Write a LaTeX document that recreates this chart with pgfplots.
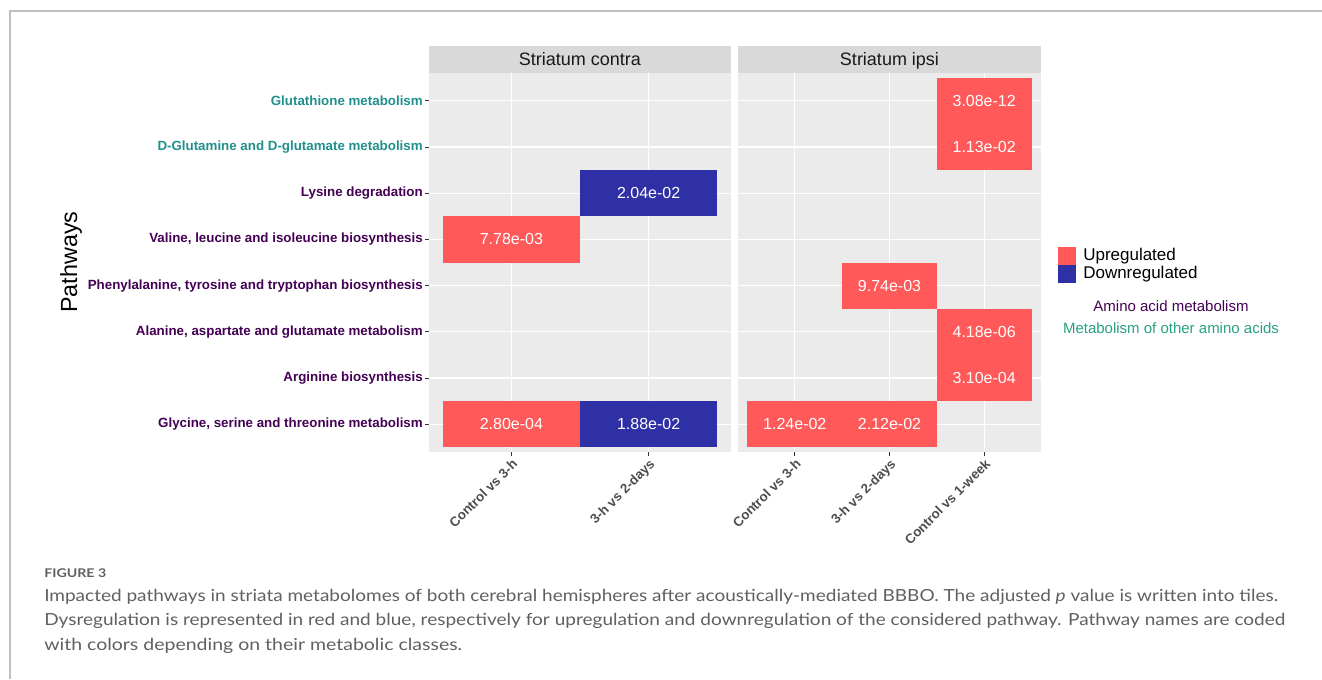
\documentclass[border=0pt]{standalone}
\usepackage{pgfplots}
\pgfplotsset{compat=1.18}
\usepackage{pgfplotstable}
\usepackage{fontspec}
\setmainfont{Liberation Sans}
\newfontfamily\capfont{Lato}

\definecolor{upred}{HTML}{FF5959}
\definecolor{downblue}{HTML}{2F2FA6}
\definecolor{panelbg}{HTML}{EBEBEB}
\definecolor{stripbg}{HTML}{D9D9D9}
\definecolor{aapurple}{HTML}{440154}
\definecolor{aateal}{HTML}{21908C}
\definecolor{legteal}{HTML}{29A083}
\definecolor{tickgray}{HTML}{4D4D4D}
\definecolor{capgray}{HTML}{606060}

% tiles: one comparison wide, one pathway high (sizes in pt)
\pgfdeclareplotmark{tileL}{\pgfpathrectangle{\pgfpoint{-51.48pt}{-17.33pt}}{\pgfpoint{102.95pt}{34.66pt}}\pgfusepath{fill}}
\pgfdeclareplotmark{tileR}{\pgfpathrectangle{\pgfpoint{-35.51pt}{-17.33pt}}{\pgfpoint{71.02pt}{34.66pt}}\pgfusepath{fill}}

% x = comparison, y = pathway row (1 Glycine ... 8 Glutathione), p = adjusted p value
\pgfplotstableread{
x y p
1 5 7.78e-03
1 1 2.80e-04
}\contraUp
\pgfplotstableread{
x y p
2 6 2.04e-02
2 1 1.88e-02
}\contraDown
\pgfplotstableread{
x y p
3 8 3.08e-12
3 7 1.13e-02
2 4 9.74e-03
3 3 4.18e-06
3 2 3.10e-04
1 1 1.24e-02
2 1 2.12e-02
}\ipsiUp

\pgfplotsset{
  panel/.style={
    scale only axis, height=284.25pt,
    ymin=0.4, ymax=8.6, ytick={1,...,8},
    axis background/.style={fill=panelbg},
    axis line style={draw=none},
    grid=major, major grid style={white, line width=0.9pt},
    tick align=outside, major tick length=3pt,
    tick style={black!80, line width=0.6pt},
    xtick pos=bottom, ytick pos=left,
    xticklabel style={rotate=45, anchor=north east, inner sep=1pt,
      font=\bfseries\fontsize{10}{12}\selectfont, text=tickgray},
    yticklabel style={inner sep=1.5pt, font=\bfseries\fontsize{10}{12}\selectfont},
    clip=false,
    point meta=explicit symbolic,
    every node near coord/.append style={anchor=center, inner sep=0pt,
      text=white, font=\fontsize{12}{14}\selectfont},
  },
  upmark/.style={only marks, mark=#1, color=upred,
    mark options={fill=upred}, nodes near coords},
  downmark/.style={only marks, mark=#1, color=downblue,
    mark options={fill=downblue}, nodes near coords},
}
\newcommand\strip[1]{%
  \fill[stripbg] (rel axis cs:0,1) rectangle ([yshift=20.25pt]rel axis cs:1,1);
  \node[anchor=base, inner sep=0pt, font=\fontsize{13.5}{16}\selectfont, text=black!90]
    at ([yshift=5.4pt]rel axis cs:0.5,1) {#1};}

\begin{document}
\begin{tikzpicture}
\path[use as bounding box] (0,0) rectangle (991.5pt,-509.25pt);

% Striatum contra
\begin{axis}[panel, at={(321.75pt,-339pt)}, anchor=south west,
  width=226.5pt, xmin=0.4, xmax=2.6, xtick={1,2},
  xticklabels={Control vs 3-h, 3-h vs 2-days},
  yticklabels={
    \textcolor{aapurple}{Glycine, serine and threonine metabolism},
    \textcolor{aapurple}{Arginine biosynthesis},
    \textcolor{aapurple}{Alanine, aspartate and glutamate metabolism},
    \textcolor{aapurple}{Phenylalanine, tyrosine and tryptophan biosynthesis},
    \textcolor{aapurple}{Valine, leucine and isoleucine biosynthesis},
    \textcolor{aapurple}{Lysine degradation},
    \textcolor{aateal}{D-Glutamine and D-glutamate metabolism},
    \textcolor{aateal}{Glutathione metabolism}},
]
\addplot[upmark=tileL] table[x=x, y=y, meta=p] {\contraUp};
\addplot[downmark=tileL] table[x=x, y=y, meta=p] {\contraDown};
\strip{Striatum contra}
\end{axis}

% Striatum ipsi
\begin{axis}[panel, at={(553.5pt,-339pt)}, anchor=south west,
  width=227.25pt, xmin=0.4, xmax=3.6, xtick={1,2,3},
  xticklabels={Control vs 3-h, 3-h vs 2-days, Control vs 1-week},
  yticklabels={}, every y tick/.style={draw=none},
]
\addplot[upmark=tileR] table[x=x, y=y, meta=p] {\ipsiUp};
\strip{Striatum ipsi}
\end{axis}

\begin{scope}[x=0.75pt, y=-0.75pt]
  % figure frame
  \draw[black!25, line width=1pt] (1322,11) -- (10,11) -- (10,679);
  % axis title
  \node[rotate=90, font=\fontsize{17.5}{21}\selectfont] at (71,262) {Pathways};
  % legend
  \fill[upred] (1058,247) rectangle (1076,265);
  \fill[downblue] (1058,265) rectangle (1076,283);
  \node[anchor=west, inner sep=0pt, font=\fontsize{12.75}{15}\selectfont] at (1083,256) {Upregulated};
  \node[anchor=west, inner sep=0pt, font=\fontsize{12.75}{15}\selectfont] at (1083,274) {Downregulated};
  \node[text=aapurple, font=\fontsize{11.25}{13}\selectfont] at (1171,306) {Amino acid metabolism};
  \node[text=legteal, font=\fontsize{11.25}{13}\selectfont] at (1171,328) {Metabolism of other amino acids};
  % caption
  \node[anchor=base west, inner sep=0pt, text=capgray, font=\capfont\bfseries\fontsize{9}{11}\selectfont]
    at (44,577) {\resizebox{46.5pt}{\height}{FIGURE 3}};
  \node[anchor=base west, inner sep=0pt, text=capgray, font=\capfont\fontsize{12.5}{15}\selectfont]
    at (44,601) {\resizebox{925.5pt}{\height}{Impacted pathways in striata metabolomes of both cerebral hemispheres after acoustically-mediated BBBO. The adjusted \textit{p} value is written into tiles.}};
  \node[anchor=base west, inner sep=0pt, text=capgray, font=\capfont\fontsize{12.5}{15}\selectfont]
    at (44,625.5) {\resizebox{930.75pt}{\height}{Dysregulation is represented in red and blue, respectively for upregulation and downregulation of the considered pathway. Pathway names are coded}};
  \node[anchor=base west, inner sep=0pt, text=capgray, font=\capfont\fontsize{12.5}{15}\selectfont]
    at (44,650) {\resizebox{313.5pt}{\height}{with colors depending on their metabolic classes.}};
\end{scope}
\end{tikzpicture}
\end{document}
